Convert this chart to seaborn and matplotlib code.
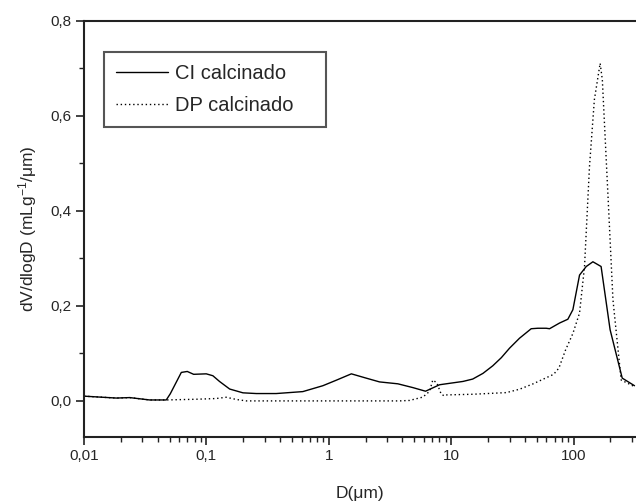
import matplotlib
matplotlib.use('Agg')
import matplotlib.pyplot as plt
import matplotlib.ticker as mticker
import seaborn as sns
import pandas as pd

# CI calcinado (solid)
ci_d = [0.01, 0.0184, 0.0236, 0.0344, 0.047, 0.0507, 0.0624, 0.0698, 0.0787, 0.0998,
        0.113, 0.128, 0.155, 0.199, 0.256, 0.372, 0.614, 0.895, 1.15, 1.53,
        2.02, 2.60, 3.67, 4.87, 6.18, 8.04, 9.1, 12.5, 15.0, 18.2,
        21.9, 25.7, 30.0, 36.2, 45.1, 51.1, 59.8, 63.7, 76.9, 89.9,
        98.8, 112, 127, 144, 168, 199, 250, 315]
ci_v = [0.010, 0.006, 0.007, 0.002, 0.002, 0.015, 0.060, 0.062, 0.056, 0.057,
        0.053, 0.041, 0.025, 0.017, 0.0155, 0.0155, 0.0196, 0.032, 0.0435, 0.057,
        0.048, 0.040, 0.036, 0.028, 0.0204, 0.034, 0.036, 0.041, 0.046, 0.058,
        0.074, 0.091, 0.111, 0.132, 0.152, 0.153, 0.153, 0.152, 0.164, 0.172,
        0.192, 0.265, 0.283, 0.293, 0.283, 0.150, 0.048, 0.032]

# DP calcinado (dotted)
dp_d = [0.01, 0.0184, 0.0236, 0.0344, 0.047, 0.0826, 0.120, 0.145, 0.176, 0.212,
        0.42, 1.48, 3.79, 4.57, 5.87, 6.66, 7.08, 7.64, 8.3, 8.83,
        9.1, 15.0, 28.3, 36.2, 46.8, 68.8, 75.9, 86.0, 98.8, 112,
        123, 135, 148, 165, 172, 192, 210, 245, 315]
dp_v = [0.010, 0.006, 0.007, 0.002, 0.002, 0.0035, 0.005, 0.0077, 0.003, 0.0,
        0.0, 0.0, 0.0, 0.001, 0.008, 0.020, 0.044, 0.038, 0.014, 0.0105,
        0.0126, 0.014, 0.0175, 0.0246, 0.036, 0.056, 0.069, 0.107, 0.142, 0.185,
        0.283, 0.493, 0.634, 0.711, 0.676, 0.423, 0.213, 0.044, 0.030]

labels = ['CI calcinado', 'DP calcinado']

df = pd.concat([
    pd.DataFrame({'D': ci_d, 'v': ci_v, 'amostra': labels[0]}),
    pd.DataFrame({'D': dp_d, 'v': dp_v, 'amostra': labels[1]}),
])

sns.set_style('ticks')
plt.rcParams['font.family'] = ['Liberation Sans', 'DejaVu Sans']
plt.rcParams['mathtext.default'] = 'regular'

fig = plt.figure(figsize=(6.36, 5.01), dpi=100)
ax = fig.add_axes([84 / 636, 64 / 501, 552 / 636, 416 / 501])

sns.lineplot(data=df, x='D', y='v', hue='amostra', style='amostra',
             palette=['black', 'black'], dashes={labels[0]: '', labels[1]: (1, 2)},
             linewidth=1.0, sort=False, estimator=None, ax=ax)

ax.set_xscale('log')
ax.set_xlim(0.01, 324)
ax.set_ylim(-0.076, 0.8)

ax.xaxis.set_major_locator(mticker.FixedLocator([0.01, 0.1, 1, 10, 100]))
ax.xaxis.set_major_formatter(mticker.FixedFormatter(['0,01', '0,1', '1', '10', '100']))
ax.xaxis.set_minor_locator(mticker.LogLocator(base=10, subs=range(2, 10), numticks=20))
ax.xaxis.set_minor_formatter(mticker.NullFormatter())

ax.yaxis.set_major_locator(mticker.MultipleLocator(0.2))
ax.yaxis.set_minor_locator(mticker.MultipleLocator(0.1))
ax.yaxis.set_major_formatter(mticker.FuncFormatter(lambda v, p: f'{v:.1f}'.replace('.', ',').replace('-0,0', '0,0')))

ax.tick_params(which='major', direction='out', length=5.5, width=1.2, labelsize=11, color='#222222')
ax.tick_params(which='minor', direction='out', length=3.5, width=1.0, color='#222222')

for s in ['left', 'bottom', 'top']:
    ax.spines[s].set_linewidth(1.5)
    ax.spines[s].set_color('#222222')
ax.spines['right'].set_visible(False)

ax.set_xlabel('D(μm)', fontsize=12.5, labelpad=16)
ax.set_ylabel('dV/dlogD (mLg$^{-1}$/μm)', fontsize=12.5, labelpad=8)

# legend box as in the original: fixed size, content left-aligned
leg = ax.legend(loc='upper left', bbox_to_anchor=(104 / 636, 1 - 126 / 501, 222 / 636, 74 / 501),
                bbox_transform=fig.transFigure, mode='expand', fontsize=14.5, frameon=True,
                fancybox=False, shadow=False, handlelength=2.55, handletextpad=0.35,
                labelspacing=0.6, borderpad=0.62, borderaxespad=0)
leg.get_frame().set_edgecolor('#555555')
leg.get_frame().set_linewidth(1.5)
leg.get_frame().set_alpha(1)

fig.savefig('out.png', dpi=100)
